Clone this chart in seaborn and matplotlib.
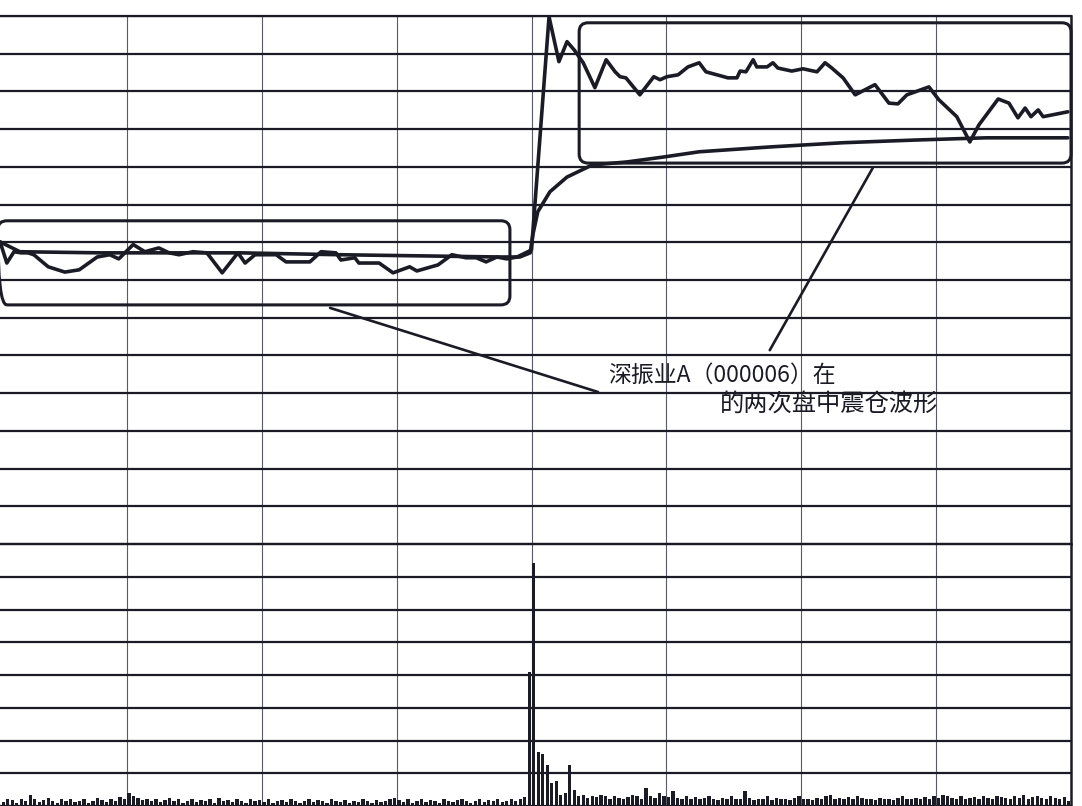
import numpy as np
import pandas as pd
import seaborn as sns
import matplotlib.pyplot as plt
from matplotlib.patches import FancyBboxPatch

# ---------------- data ----------------
# time axis: minutes of the trading day (0..240), grid every 30 minutes
price_min = [1.8, 3.3, 4.9, 6.5, 8.0, 9.3, 12.5, 16.2, 19.4, 23.4, 26.2, 28.2, 31.4, 34.0,
             37.1, 39.4, 41.6, 44.7, 47.8, 51.2, 54.7, 56.3, 58.5, 63.2, 65.4, 70.7, 73.2,
             76.5, 77.6, 80.7, 81.6, 86.1, 89.2, 92.9, 94.5, 99.2, 102.3, 105.4, 107.7,
             109.9, 112.3, 114.5, 116.8, 119.2, 120.0,
             123.9, 126.1, 127.9, 129.5, 131.5, 134.1, 136.6, 138.6, 139.7, 141.0, 144.1,
             147.2, 148.6, 150.1, 152.6, 154.8, 157.3, 158.8, 163.7, 165.7, 166.4, 167.7,
             169.3, 170.1, 172.4, 173.7, 174.8, 177.9, 180.4, 183.5, 185.3, 186.8, 189.3,
             192.0, 196.4, 199.5, 201.5, 203.5, 208.4, 210.6, 214.6, 217.5, 219.5, 223.8,
             226.2, 228.2, 229.8, 231.1, 232.7, 233.8, 239.3]
price_val = [8.01, 7.45, 7.75, 7.72, 7.72, 7.67, 7.35, 7.21, 7.27, 7.61, 7.67, 7.56, 7.94, 7.75,
             7.85, 7.72, 7.67, 7.75, 7.72, 7.19, 7.72, 7.45, 7.67, 7.67, 7.48, 7.48, 7.75,
             7.72, 7.53, 7.59, 7.45, 7.45, 7.19, 7.35, 7.24, 7.40, 7.67, 7.59, 7.59,
             7.48, 7.61, 7.56, 7.61, 7.75, 7.80,
             13.98, 12.79, 13.32, 13.10, 12.76, 12.10, 12.84, 12.52, 12.39, 12.36, 11.91,
             12.39, 12.31, 12.39, 12.44, 12.65, 12.76, 12.52, 12.36, 12.36, 12.54, 12.52,
             12.84, 12.65, 12.65, 12.76, 12.62, 12.54, 12.60, 12.52, 12.76, 12.62, 12.36,
             11.91, 12.18, 11.69, 11.67, 11.91, 12.12, 11.78, 11.33, 10.66, 11.11, 11.80,
             11.69, 11.30, 11.56, 11.33, 11.51, 11.33, 11.46]

avg_min = [1.8, 6.2, 24.0, 55.2, 77.4, 113.0, 117.4, 119.7, 120.3, 121.4, 124.1, 127.9,
           133.5, 141.2, 149.3, 157.3, 173.3, 189.3, 205.1, 221.1, 239.3]
avg_val = [8.01, 7.75, 7.72, 7.72, 7.67, 7.61, 7.61, 7.72, 8.20, 8.81, 9.34, 9.73,
           10.05, 10.13, 10.26, 10.40, 10.53, 10.64, 10.71, 10.77, 10.77]

vol_am = [0.15, 0.25, 0.12, 0.20, 0.18, 0.10, 0.22, 0.15, 0.34, 0.20,
          0.12, 0.18, 0.25, 0.15, 0.10, 0.20, 0.14, 0.22, 0.12, 0.16,
          0.20, 0.10, 0.15, 0.24, 0.18, 0.12, 0.20, 0.16, 0.28, 0.22,
          0.40, 0.30, 0.25, 0.18, 0.22, 0.15, 0.20, 0.12, 0.18, 0.24,
          0.14, 0.20, 0.10, 0.16, 0.22, 0.12, 0.18, 0.15, 0.20, 0.10,
          0.25, 0.14, 0.18, 0.12, 0.20, 0.16, 0.10, 0.22, 0.14, 0.18,
          0.12, 0.20, 0.10, 0.15, 0.18, 0.12, 0.22, 0.14, 0.10, 0.16,
          0.20, 0.12, 0.18, 0.15, 0.10, 0.20, 0.14, 0.12, 0.18, 0.10,
          0.16, 0.12, 0.20, 0.14, 0.10, 0.18, 0.12, 0.15, 0.22, 0.25,
          0.18, 0.12, 0.20, 0.10, 0.15, 0.20, 0.12, 0.18, 0.14, 0.10,
          0.20, 0.15, 0.12, 0.18, 0.22, 0.14, 0.10, 0.16, 0.20, 0.12,
          0.18, 0.14, 0.20, 0.12, 0.16, 0.22, 0.15, 0.20, 0.28, 4.10]
vol_pm = [7.42, 1.65, 1.60, 1.25, 0.70, 0.75, 0.35, 0.40, 1.25, 0.50,
          0.30, 0.35, 0.25, 0.30, 0.28, 0.35, 0.30, 0.22, 0.30, 0.25,
          0.20, 0.28, 0.35, 0.30, 0.22, 0.55, 0.30, 0.25, 0.40, 0.30,
          0.28, 0.45, 0.25, 0.20, 0.30, 0.22, 0.28, 0.20, 0.25, 0.30,
          0.22, 0.18, 0.25, 0.20, 0.30, 0.22, 0.20, 0.45, 0.25, 0.18,
          0.22, 0.20, 0.30, 0.18, 0.25, 0.20, 0.22, 0.18, 0.25, 0.30,
          0.20, 0.22, 0.18, 0.25, 0.20, 0.30, 0.35, 0.22, 0.25, 0.20,
          0.28, 0.22, 0.30, 0.25, 0.20, 0.22, 0.18, 0.25, 0.20, 0.22,
          0.18, 0.25, 0.30, 0.22, 0.20, 0.25, 0.20, 0.28, 0.22, 0.30,
          0.25, 0.35, 0.30, 0.25, 0.22, 0.30, 0.20, 0.25, 0.28, 0.22,
          0.30, 0.25, 0.22, 0.30, 0.28, 0.25, 0.20, 0.30, 0.25, 0.35,
          0.22, 0.28, 0.30, 0.25, 0.22, 0.30, 0.25, 0.20, 0.28, 0.15]

label_line1 = "深振业A（000006）在"
label_line2 = "的两次盘中震仓波形"

# ---------------- figure ----------------
sns.set_theme(style="white")
plt.rcParams['font.family'] = ['Noto Sans CJK SC', 'DejaVu Sans']

W, H = 1082, 806
INK = "#1b1b26"
fig = plt.figure(figsize=(W / 100, H / 100), dpi=100)
fig.patch.set_facecolor("white")

left = -8 / W
width = (1071 + 8) / W
ax = fig.add_axes([left, 1 - 544 / H, width, (544 - 16) / H])
axv = fig.add_axes([left, 0, width, (806 - 544) / H])

for a in (ax, axv):
    a.set_facecolor("white")
    a.set_xlim(0, 240)
    a.set_xticks(np.arange(0, 241, 30))
    a.tick_params(length=0, labelbottom=False, labelleft=False)
    a.xaxis.grid(True, color="#5a5a66", linewidth=0.8)
    a.yaxis.grid(True, color=INK, linewidth=1.6)
    a.set_axisbelow(True)
    for s in ("left", "bottom"):
        a.spines[s].set_visible(False)
    a.spines["right"].set_color(INK)
    a.spines["right"].set_linewidth(1.8)
    a.spines["top"].set_color(INK)
    a.spines["top"].set_linewidth(1.6)

ax.set_ylim(0, 14)
ax.set_yticks(np.arange(0, 15, 1))
axv.set_ylim(0, 8)
axv.set_yticks(np.arange(0, 9, 1))

# price & average lines
sns.lineplot(x=price_min, y=price_val, ax=ax, color=INK, linewidth=2.6, sort=False)
sns.lineplot(x=avg_min, y=avg_val, ax=ax, color=INK, linewidth=2.6, sort=False)

# volume bars
vol = pd.DataFrame({"minute": np.arange(240) + 0.5, "vol": vol_am + vol_pm})
sns.barplot(data=vol, x="minute", y="vol", native_scale=True, ax=axv, color=INK,
            saturation=1, width=0.75, linewidth=0, errorbar=None)
axv.set_xlim(0, 240)
axv.set_xlabel("")
axv.set_ylabel("")
ax.set_xlabel("")
ax.set_ylabel("")

# rounded frames (annotation boxes)
asp = (4.496 / 37.71)
box1 = FancyBboxPatch((1.3, 6.34), 113.9, 2.23,
                      boxstyle="round,pad=0,rounding_size=2.0",
                      mutation_aspect=asp, fill=False, edgecolor=INK, linewidth=2.2,
                      clip_on=False, zorder=5)
box2 = FancyBboxPatch((130.6, 10.10), 109.4, 3.72,
                      boxstyle="round,pad=0,rounding_size=2.0",
                      mutation_aspect=asp, fill=False, edgecolor=INK, linewidth=2.2,
                      clip_on=False, zorder=5)
ax.add_patch(box1)
ax.add_patch(box2)

# leader lines
ax.plot([75.2, 134.8], [6.26, 4.03], color=INK, linewidth=1.9, zorder=5)
ax.plot([195.9, 173.0], [9.97, 5.14], color=INK, linewidth=1.9, zorder=5)

# annotation text
ax.text(137.0, 4.48, label_line1, fontsize=16.5, color=INK, ha="left", va="center", zorder=6)
ax.text(161.9, 3.69, label_line2, fontsize=17.5, color=INK, ha="left", va="center", zorder=6)

fig.savefig("out.png", dpi=100, facecolor="white")
